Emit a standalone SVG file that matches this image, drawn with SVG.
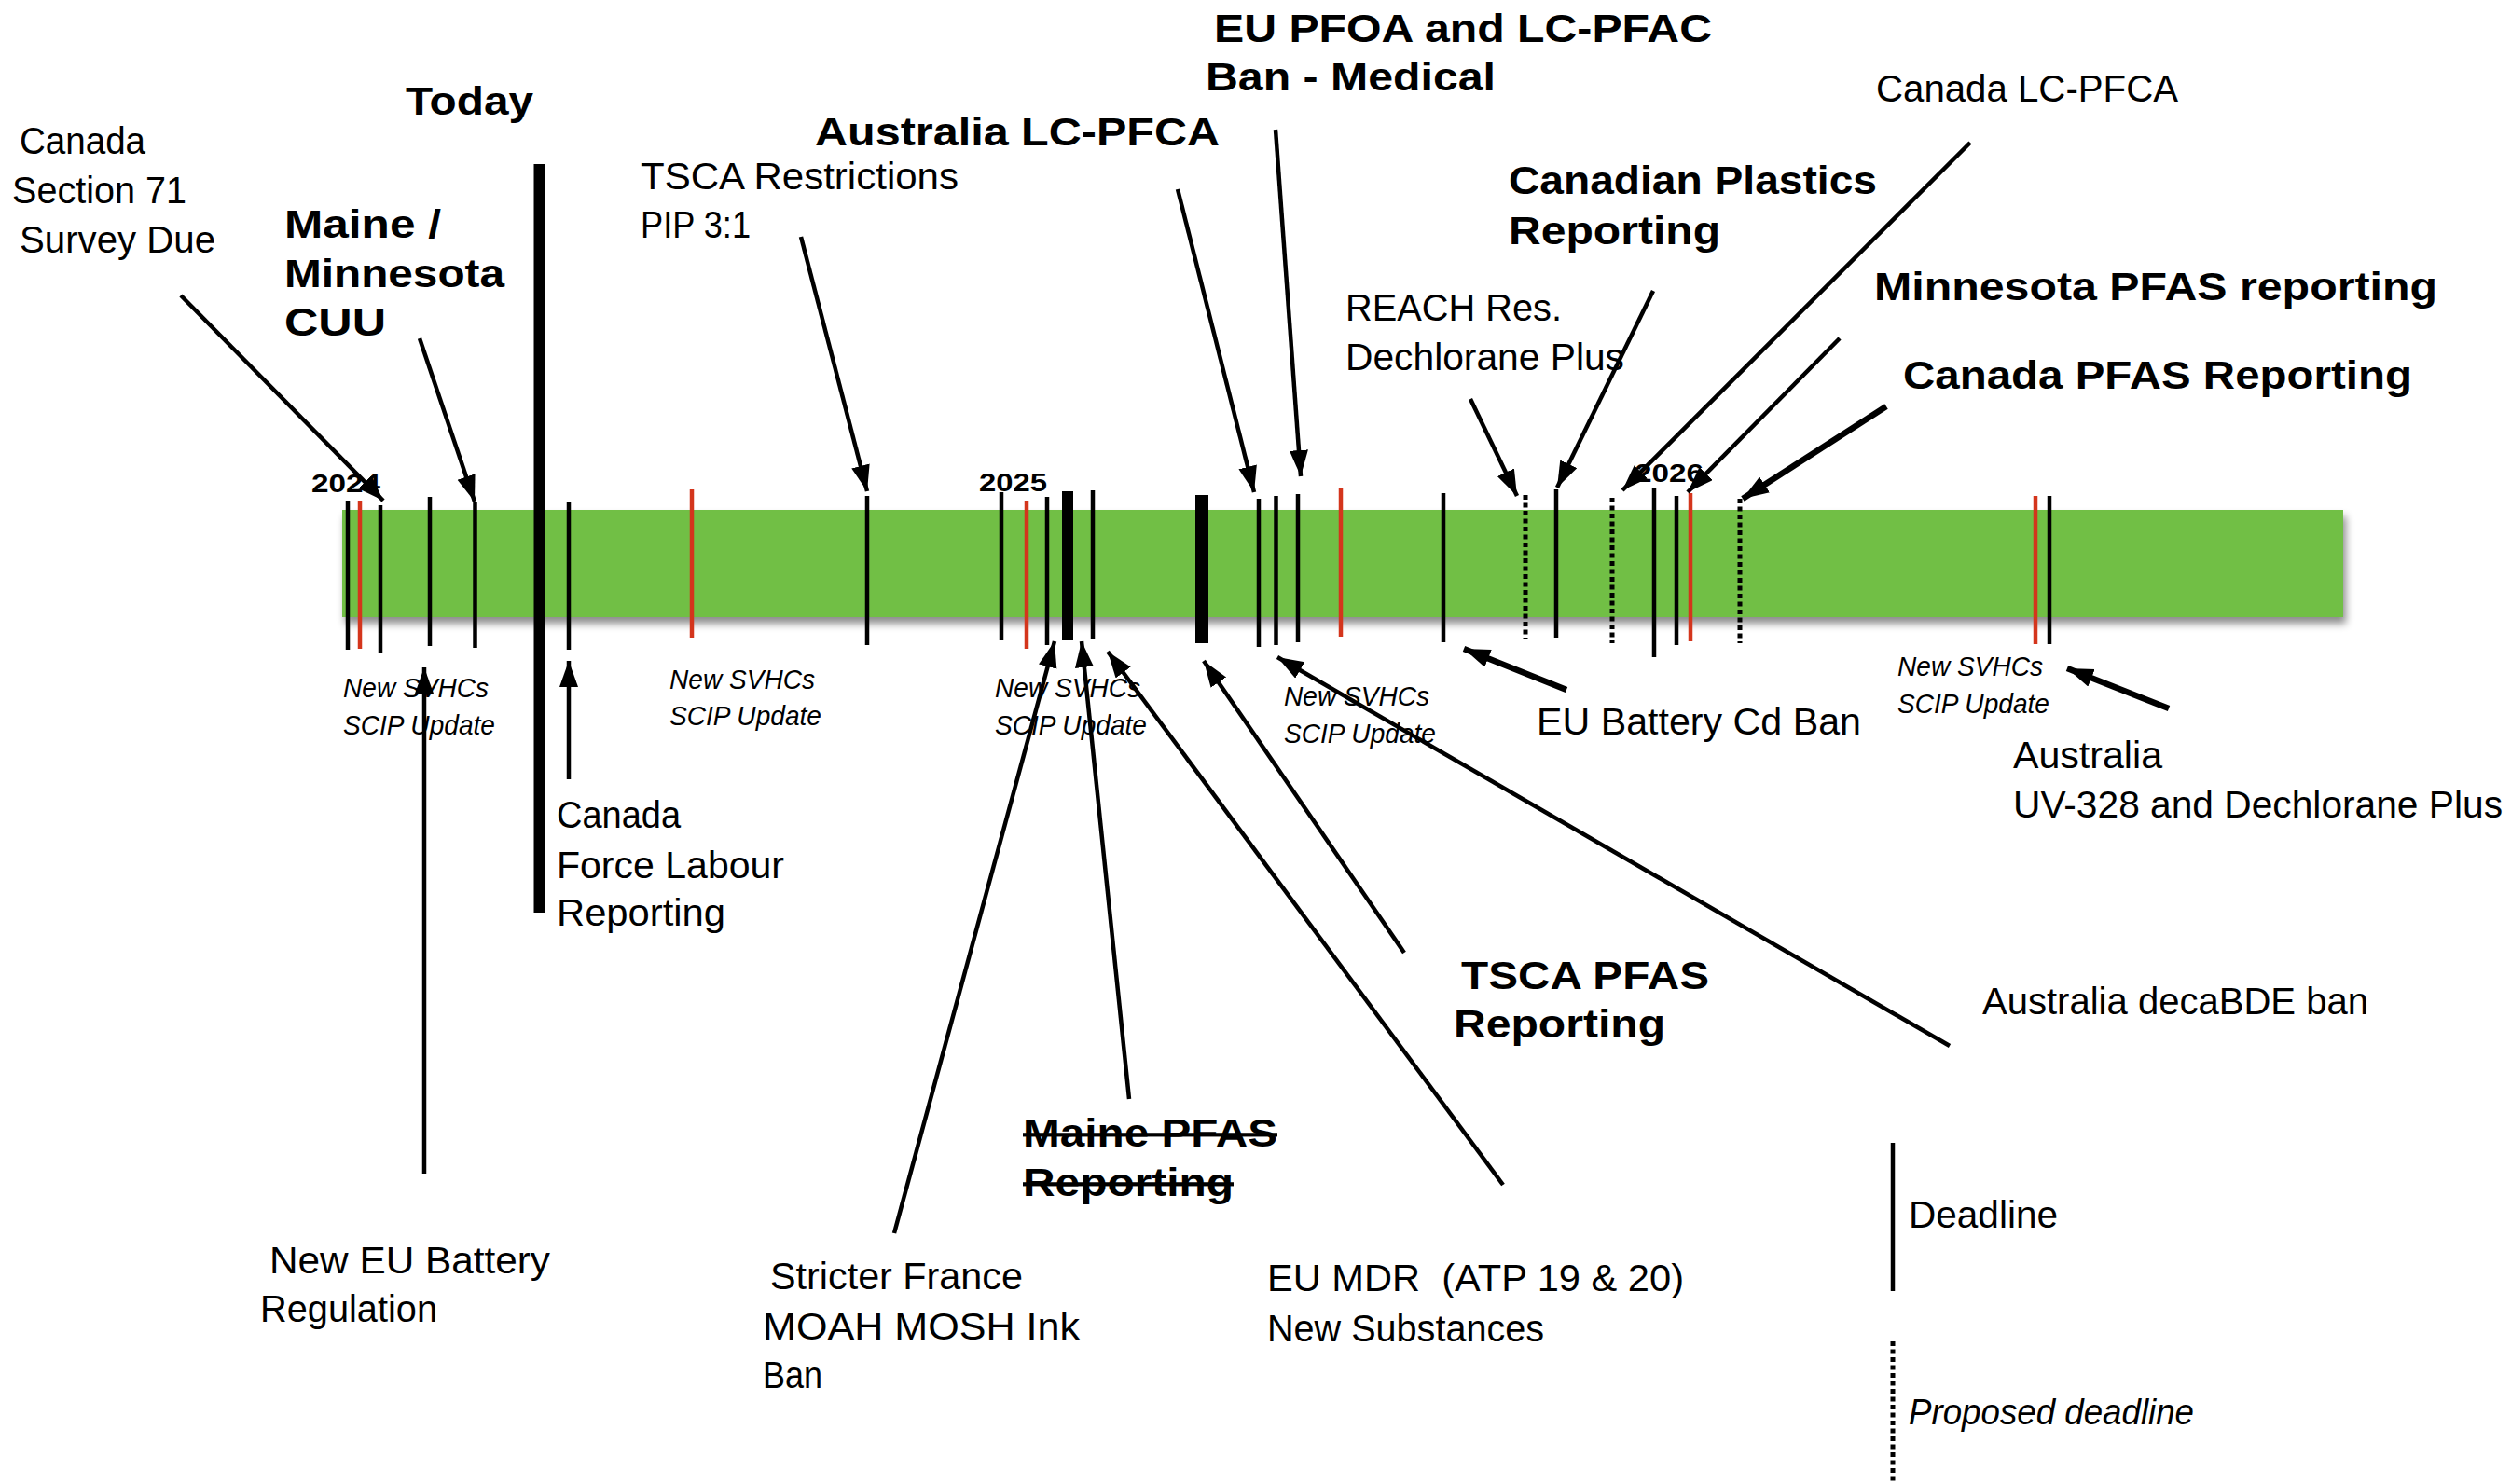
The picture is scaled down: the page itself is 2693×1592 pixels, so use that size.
<svg xmlns="http://www.w3.org/2000/svg" width="2693" height="1592" viewBox="0 0 2693 1592">
<style>
text{font-family:"Liberation Sans",Arial,sans-serif;fill:#000}
.r{font-size:40px}
.b{font-size:42px;font-weight:bold}
.y{font-size:28px;font-weight:bold}
.i{font-size:29px;font-style:italic}
.li{font-size:38px;font-style:italic}
.k{stroke:#000;stroke-width:4.5;fill:none}
.red{stroke:#D4351C;stroke-width:4.5;fill:none}
.dot{stroke:#000;stroke-width:5;stroke-dasharray:5 3.5;fill:none}
.a{stroke:#000;stroke-width:4.5;fill:none;marker-end:url(#ah)}
.a6{stroke:#000;stroke-width:6.5;fill:none;marker-end:url(#ah)}
.st{text-decoration:line-through}
</style>
<defs>
<marker id="ah" markerUnits="userSpaceOnUse" markerWidth="30" markerHeight="22" refX="28" refY="10" orient="auto">
<path d="M0,0 L28,10 L0,20 z" fill="#000"/>
</marker>
<filter id="sh" x="-2%" y="-20%" width="104%" height="160%">
<feDropShadow dx="3" dy="7" stdDeviation="4" flood-color="#000" flood-opacity="0.45"/>
</filter>
</defs>
<rect width="2693" height="1592" fill="#fff"/>

<g id="timeline-bar">
<rect x="367" y="547" width="2146" height="115" fill="#71BF44" filter="url(#sh)"/>
</g>

<g id="year-labels">
<text class="y" x="334" y="528" textLength="74" lengthAdjust="spacingAndGlyphs">2024</text>
<text class="y" x="1050" y="527" textLength="73" lengthAdjust="spacingAndGlyphs">2025</text>
<text class="y" x="1753" y="517" textLength="74" lengthAdjust="spacingAndGlyphs">2026</text>
</g>

<g id="deadline-marks">
<line class="k" x1="373" y1="537" x2="373" y2="697"/>
<line class="red" x1="386" y1="537" x2="386" y2="696"/>
<line class="k" x1="408" y1="542" x2="408" y2="701"/>
<line class="k" x1="461" y1="533" x2="461" y2="693"/>
<line class="k" x1="509.5" y1="539" x2="509.5" y2="695"/>
<line class="k" x1="610" y1="538" x2="610" y2="697"/>
<line class="red" x1="742" y1="525" x2="742" y2="684"/>
<line class="k" x1="930" y1="532" x2="930" y2="692"/>
<line class="k" x1="1074" y1="528" x2="1074" y2="687"/>
<line class="red" x1="1101" y1="537" x2="1101" y2="696"/>
<line class="k" x1="1123" y1="533" x2="1123" y2="692"/>
<line class="k" x1="1145" y1="527" x2="1145" y2="687" style="stroke-width:12"/>
<line class="k" x1="1172" y1="526" x2="1172" y2="686"/>
<line class="k" x1="1289" y1="531" x2="1289" y2="690" style="stroke-width:14"/>
<line class="k" x1="1350" y1="535" x2="1350" y2="694"/>
<line class="k" x1="1368.5" y1="532" x2="1368.5" y2="692"/>
<line class="k" x1="1392" y1="530" x2="1392" y2="689"/>
<line class="red" x1="1438" y1="524" x2="1438" y2="683"/>
<line class="k" x1="1548" y1="529" x2="1548" y2="689"/>
<line class="dot" x1="1636" y1="531" x2="1636" y2="686"/>
<line class="k" x1="1669" y1="525" x2="1669" y2="684"/>
<line class="dot" x1="1729" y1="534" x2="1729" y2="690"/>
<line class="k" x1="1774" y1="524" x2="1774" y2="705"/>
<line class="k" x1="1798" y1="532" x2="1798" y2="692"/>
<line class="red" x1="1813" y1="529" x2="1813" y2="688"/>
<line class="dot" x1="1866" y1="535" x2="1866" y2="690"/>
<line class="red" x1="2183" y1="532" x2="2183" y2="691"/>
<line class="k" x1="2198" y1="532" x2="2198" y2="691"/>
</g>

<g id="today">
<line class="k" x1="578.5" y1="176" x2="578.5" y2="979" style="stroke-width:12"/>
<text class="b" x="435" y="123" textLength="137" lengthAdjust="spacingAndGlyphs">Today</text>
</g>

<g id="connectors">
<line class="a" x1="194" y1="317" x2="411" y2="537"/>
<line class="a" x1="450" y1="363" x2="509" y2="538"/>
<line class="a" x1="859" y1="254" x2="930" y2="527"/>
<line class="a" x1="1263" y1="203" x2="1345" y2="528"/>
<line class="a" x1="1368" y1="139" x2="1395" y2="511"/>
<line class="a" x1="1577" y1="428" x2="1627" y2="532"/>
<line class="a" x1="1773" y1="312" x2="1670" y2="523"/>
<line class="a" x1="2113" y1="153" x2="1740" y2="526"/>
<line class="a" x1="1973" y1="363" x2="1810" y2="528"/>
<line class="a6" x1="2023" y1="436" x2="1869" y2="535"/>
<line class="a" x1="455" y1="1259" x2="455" y2="716"/>
<line class="a" x1="610" y1="836" x2="610" y2="709"/>
<line class="a" x1="959" y1="1323" x2="1131" y2="688"/>
<line class="a" x1="1211" y1="1179" x2="1160" y2="688"/>
<line class="a" x1="1612" y1="1271" x2="1188" y2="699"/>
<line class="a" x1="1506" y1="1022" x2="1291" y2="709"/>
<line class="a" x1="2091" y1="1122" x2="1370" y2="705"/>
<line class="a6" x1="1680" y1="740" x2="1570" y2="696"/>
<line class="a6" x1="2326" y1="760" x2="2217" y2="717"/>
</g>

<g id="canada-section-71">
<text class="r" x="21" y="165" textLength="135" lengthAdjust="spacingAndGlyphs">Canada</text>
<text class="r" x="13" y="218" textLength="187" lengthAdjust="spacingAndGlyphs">Section 71</text>
<text class="r" x="21" y="271" textLength="210" lengthAdjust="spacingAndGlyphs">Survey Due</text>
</g>

<g id="maine-minnesota-cuu">
<text class="b" x="305" y="255" textLength="168" lengthAdjust="spacingAndGlyphs">Maine /</text>
<text class="b" x="305" y="308" textLength="236" lengthAdjust="spacingAndGlyphs">Minnesota</text>
<text class="b" x="305" y="360" textLength="109" lengthAdjust="spacingAndGlyphs">CUU</text>
</g>

<g id="tsca-restrictions">
<text class="r" x="687" y="203" textLength="341" lengthAdjust="spacingAndGlyphs">TSCA Restrictions</text>
<text class="r" x="687" y="255" textLength="118" lengthAdjust="spacingAndGlyphs">PIP 3:1</text>
</g>

<g id="australia-lc-pfca">
<text class="b" x="874" y="156" textLength="434" lengthAdjust="spacingAndGlyphs">Australia LC-PFCA</text>
</g>

<g id="eu-pfoa">
<text class="b" x="1302" y="45" textLength="534" lengthAdjust="spacingAndGlyphs">EU PFOA and LC-PFAC</text>
<text class="b" x="1293" y="97" textLength="311" lengthAdjust="spacingAndGlyphs">Ban - Medical</text>
</g>

<g id="reach-dechlorane">
<text class="r" x="1443" y="344" textLength="232" lengthAdjust="spacingAndGlyphs">REACH Res.</text>
<text class="r" x="1443" y="397" textLength="299" lengthAdjust="spacingAndGlyphs">Dechlorane Plus</text>
</g>

<g id="canadian-plastics">
<text class="b" x="1618" y="208" textLength="395" lengthAdjust="spacingAndGlyphs">Canadian Plastics</text>
<text class="b" x="1618" y="262" textLength="227" lengthAdjust="spacingAndGlyphs">Reporting</text>
</g>

<g id="canada-lc-pfca">
<text class="r" x="2012" y="109" textLength="324" lengthAdjust="spacingAndGlyphs">Canada LC-PFCA</text>
</g>

<g id="minnesota-pfas">
<text class="b" x="2010" y="322" textLength="604" lengthAdjust="spacingAndGlyphs">Minnesota PFAS reporting</text>
</g>

<g id="canada-pfas">
<text class="b" x="2041" y="417" textLength="546" lengthAdjust="spacingAndGlyphs">Canada PFAS Reporting</text>
</g>

<g id="svhc-1">
<text class="i" x="368" y="748" textLength="156" lengthAdjust="spacingAndGlyphs">New SVHCs</text>
<text class="i" x="368" y="788" textLength="163" lengthAdjust="spacingAndGlyphs">SCIP Update</text>
</g>
<g id="svhc-2">
<text class="i" x="718" y="739" textLength="156" lengthAdjust="spacingAndGlyphs">New SVHCs</text>
<text class="i" x="718" y="778" textLength="163" lengthAdjust="spacingAndGlyphs">SCIP Update</text>
</g>
<g id="svhc-3">
<text class="i" x="1067" y="748" textLength="156" lengthAdjust="spacingAndGlyphs">New SVHCs</text>
<text class="i" x="1067" y="788" textLength="163" lengthAdjust="spacingAndGlyphs">SCIP Update</text>
</g>
<g id="svhc-4">
<text class="i" x="1377" y="757" textLength="156" lengthAdjust="spacingAndGlyphs">New SVHCs</text>
<text class="i" x="1377" y="797" textLength="163" lengthAdjust="spacingAndGlyphs">SCIP Update</text>
</g>
<g id="svhc-5">
<text class="i" x="2035" y="725" textLength="156" lengthAdjust="spacingAndGlyphs">New SVHCs</text>
<text class="i" x="2035" y="765" textLength="163" lengthAdjust="spacingAndGlyphs">SCIP Update</text>
</g>

<g id="canada-force-labour">
<text class="r" x="597" y="888" textLength="133" lengthAdjust="spacingAndGlyphs">Canada</text>
<text class="r" x="597" y="942" textLength="244" lengthAdjust="spacingAndGlyphs">Force Labour</text>
<text class="r" x="597" y="993" textLength="181" lengthAdjust="spacingAndGlyphs">Reporting</text>
</g>

<g id="eu-battery-cd">
<text class="r" x="1648" y="788" textLength="348" lengthAdjust="spacingAndGlyphs">EU Battery Cd Ban</text>
</g>

<g id="australia-uv328">
<text class="r" x="2159" y="824" textLength="160" lengthAdjust="spacingAndGlyphs">Australia</text>
<text class="r" x="2159" y="877" textLength="525" lengthAdjust="spacingAndGlyphs">UV-328 and Dechlorane Plus</text>
</g>

<g id="tsca-pfas">
<text class="b" x="1567" y="1061" textLength="266" lengthAdjust="spacingAndGlyphs">TSCA PFAS</text>
<text class="b" x="1559" y="1113" textLength="227" lengthAdjust="spacingAndGlyphs">Reporting</text>
</g>

<g id="australia-decabde">
<text class="r" x="2126" y="1088" textLength="414" lengthAdjust="spacingAndGlyphs">Australia decaBDE ban</text>
</g>

<g id="maine-pfas">
<text class="b st" x="1097" y="1230" textLength="273" lengthAdjust="spacingAndGlyphs">Maine PFAS</text>
<text class="b st" x="1097" y="1283" textLength="226" lengthAdjust="spacingAndGlyphs">Reporting</text>
</g>

<g id="new-eu-battery">
<text class="r" x="289" y="1366" textLength="301" lengthAdjust="spacingAndGlyphs">New EU Battery</text>
<text class="r" x="279" y="1418" textLength="190" lengthAdjust="spacingAndGlyphs">Regulation</text>
</g>

<g id="france-moah">
<text class="r" x="826" y="1383" textLength="271" lengthAdjust="spacingAndGlyphs">Stricter France</text>
<text class="r" x="818" y="1437" textLength="340" lengthAdjust="spacingAndGlyphs">MOAH MOSH Ink</text>
<text class="r" x="818" y="1489" textLength="64" lengthAdjust="spacingAndGlyphs">Ban</text>
</g>

<g id="eu-mdr">
<text class="r" x="1359" y="1385" textLength="447" lengthAdjust="spacingAndGlyphs" xml:space="preserve">EU MDR  (ATP 19 &amp; 20)</text>
<text class="r" x="1359" y="1439" textLength="297" lengthAdjust="spacingAndGlyphs">New Substances</text>
</g>

<g id="legend">
<line class="k" x1="2030" y1="1226" x2="2030" y2="1385"/>
<text class="r" x="2047" y="1317" textLength="160" lengthAdjust="spacingAndGlyphs">Deadline</text>
<line class="dot" x1="2030" y1="1439" x2="2030" y2="1592"/>
<text class="li" x="2047" y="1528" textLength="306" lengthAdjust="spacingAndGlyphs">Proposed deadline</text>
</g>
</svg>
